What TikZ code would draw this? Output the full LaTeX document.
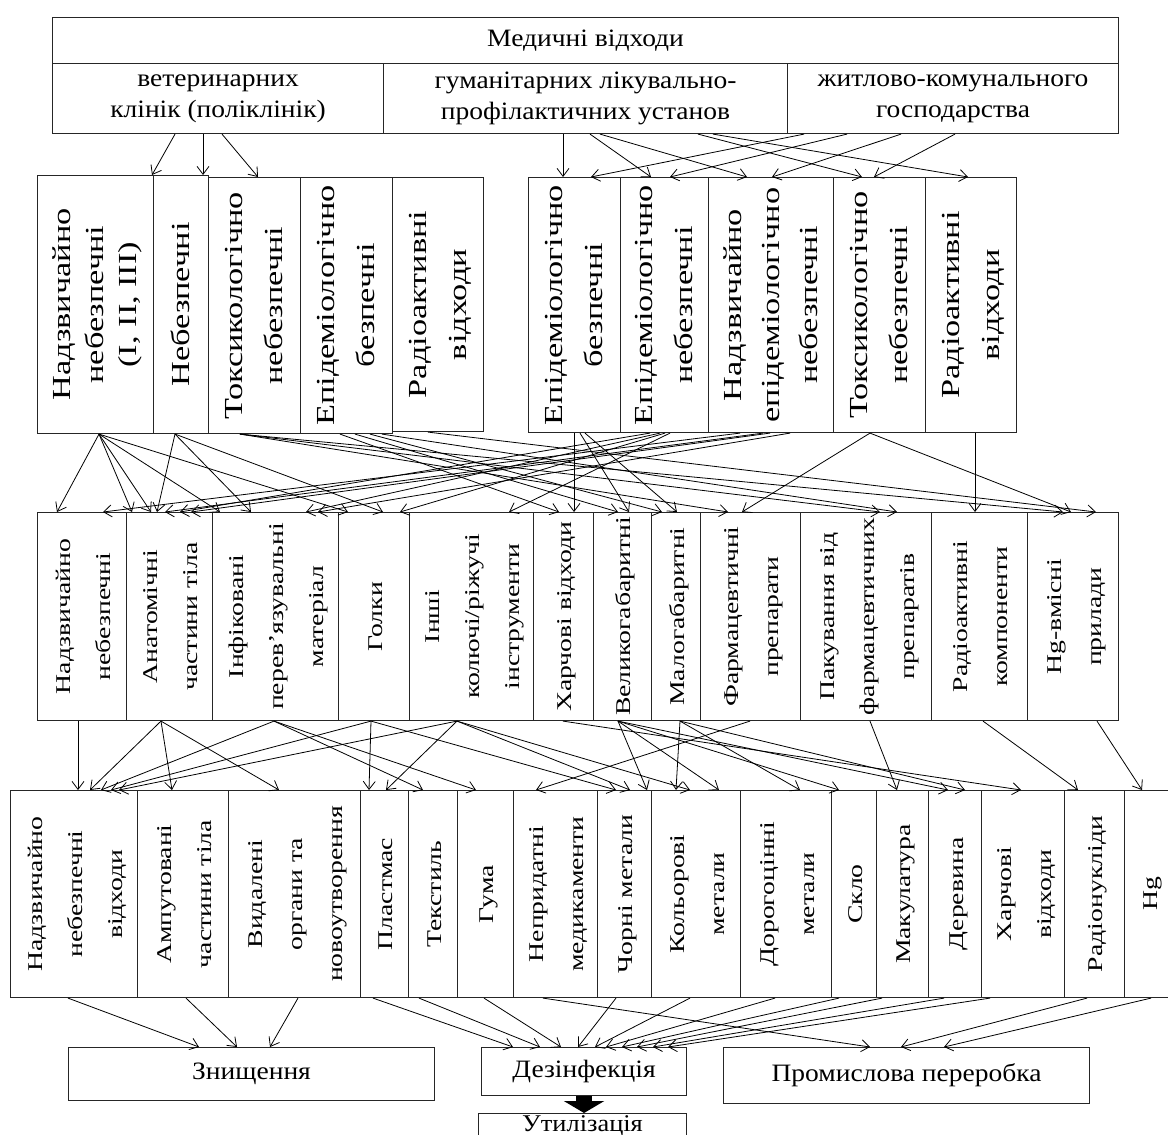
\documentclass[tikz,border=0pt]{standalone}
\usepackage{fontspec}
\usepackage{graphicx}
\setmainfont{Liberation Serif}
\newfontfamily\hfont[FakeStretch=1.1]{Liberation Serif}
\newfontfamily\vfont[FakeStretch=1.32]{Liberation Serif}
\usetikzlibrary{arrows.meta}
\usetikzlibrary{positioning}

\newcommand{\vtext}[1]{\rotatebox{90}{\begin{tabular}{@{}c@{}}#1\end{tabular}}}

\begin{document}
\begin{tikzpicture}[x=1pt,y=-1pt,
    hbox/.style={draw=black!85, line width=1.1pt, inner sep=0pt, anchor=north west,
      align=center, font=\hfont\fontsize{25}{31}\selectfont},
    vbox/.style={draw=black!85, line width=1.1pt, inner sep=0pt, anchor=north west},
    lvtwo/.style={vbox, font=\vfont\fontsize{26}{40}\selectfont},
    lvthree/.style={vbox, minimum height=208pt, font=\vfont\fontsize{21}{40}\selectfont},
    lvfour/.style={vbox, minimum height=207pt, font=\vfont\fontsize{21}{40}\selectfont},
    arr/.style={-{Straight Barb[length=8pt,width=12pt]}, line width=0.8pt},
    fat/.style={-{Triangle[length=12pt,width=40pt]}, line width=16pt}]
    \fill[white] (0,0) rectangle (1168,1135);
    \useasboundingbox (0,0) rectangle (1168,1135);

    % sources
    \node[hbox, minimum width=1066pt, minimum height=46pt] (title) at (52,17) {Медичні відходи};
    \node[hbox, minimum width=331pt, minimum height=70pt] (vet) at (52,63) {ветеринарних\\клінік (поліклінік)};
    \node[hbox, minimum width=404pt, minimum height=70pt] (hum) at (383,63) {гуманітарних лікувально-\\профілактичних установ};
    \node[hbox, minimum width=331pt, minimum height=70pt] (com) at (787,63) {житлово-комунального\\господарства};

    % level 2, left group
    \node[lvtwo, minimum width=116pt, minimum height=258pt] (a1) at (37,175) {\vtext{Надзвичайно\\[-7pt]небезпечні\\[-7pt](I, II, III)}};
    \node[lvtwo, minimum width=55pt, minimum height=258pt] (a2) at (153,175) {\vtext{Небезпечні}};
    \node[lvtwo, minimum width=92pt, minimum height=256pt] (a3) at (208,177) {\vtext{Токсикологічно\\небезпечні}};
    \node[lvtwo, minimum width=92pt, minimum height=256pt] (a4) at (300,177) {\vtext{Епідеміологічно\\безпечні}};
    \node[lvtwo, minimum width=91pt, minimum height=254pt] (a5) at (392,177) {\vtext{Радіоактивні\\відходи}};
    % level 2, right group
    \node[lvtwo, minimum width=92pt, minimum height=255pt] (b1) at (528,177) {\vtext{Епідеміологічно\\безпечні}};
    \node[lvtwo, minimum width=88pt, minimum height=255pt] (b2) at (620,177) {\vtext{Епідеміологічно\\небезпечні}};
    \node[lvtwo, minimum width=125pt, minimum height=255pt] (b3) at (708,177) {\vtext{Надзвичайно\\[-2pt]епідеміологічно\\[-2pt]небезпечні}};
    \node[lvtwo, minimum width=92pt, minimum height=255pt] (b4) at (833,177) {\vtext{Токсикологічно\\небезпечні}};
    \node[lvtwo, minimum width=91pt, minimum height=255pt] (b5) at (925,177) {\vtext{Радіоактивні\\відходи}};

    % level 3
    \node[lvthree, minimum width=89pt] (c1) at (37,512) {\vtext{Надзвичайно\\небезпечні}};
    \node[lvthree, minimum width=86pt] (c2) at (126,512) {\vtext{Анатомічні\\частини тіла}};
    \node[lvthree, minimum width=126pt] (c3) at (212,512) {\vtext{Інфіковані\\перев’язувальні\\матеріал}};
    \node[lvthree, minimum width=71pt] (c4) at (338,512) {\vtext{Голки}};
    \node[lvthree, minimum width=124pt] (c5) at (409,512) {\vtext{Інші\\колючі/ріжучі\\інструменти}};
    \node[lvthree, minimum width=60pt] (c6) at (533,512) {\vtext{Харчові відходи}};
    \node[lvthree, minimum width=58pt] (c7) at (593,512) {\vtext{Великогабаритні}};
    \node[lvthree, minimum width=49pt] (c8) at (651,512) {\vtext{Малогабаритні}};
    \node[lvthree, minimum width=100pt] (c9) at (700,512) {\vtext{Фармацевтичні\\препарати}};
    \node[lvthree, minimum width=131pt] (c10) at (800,512) {\vtext{Пакування від\\фармацевтичних\\препаратів}};
    \node[lvthree, minimum width=96pt] (c11) at (931,512) {\vtext{Радіоактивні\\компоненти}};
    \node[lvthree, minimum width=91pt] (c12) at (1027,512) {\vtext{Hg-вмісні\\прилади}};

    % level 4
    \node[lvfour, minimum width=127pt] (d1) at (10,790) {\vtext{Надзвичайно\\небезпечні\\відходи}};
    \node[lvfour, minimum width=91pt] (d2) at (137,790) {\vtext{Ампутовані\\частини тіла}};
    \node[lvfour, minimum width=132pt] (d3) at (228,790) {\vtext{Видалені\\органи та\\новоутворення}};
    \node[lvfour, minimum width=48pt] (d4) at (360,790) {\vtext{Пластмас}};
    \node[lvfour, minimum width=49pt] (d5) at (408,790) {\vtext{Текстиль}};
    \node[lvfour, minimum width=56pt] (d6) at (457,790) {\vtext{Гума}};
    \node[lvfour, minimum width=84pt] (d7) at (513,790) {\vtext{Непридатні\\медикаменти}};
    \node[lvfour, minimum width=54pt] (d8) at (597,790) {\vtext{Чорні метали}};
    \node[lvfour, minimum width=89pt] (d9) at (651,790) {\vtext{Кольорові\\метали}};
    \node[lvfour, minimum width=91pt] (d10) at (740,790) {\vtext{Дорогоцінні\\метали}};
    \node[lvfour, minimum width=45pt] (d11) at (831,790) {\vtext{Скло}};
    \node[lvfour, minimum width=52pt] (d12) at (876,790) {\vtext{Макулатура}};
    \node[lvfour, minimum width=53pt] (d13) at (928,790) {\vtext{Деревина}};
    \node[lvfour, minimum width=83pt] (d14) at (981,790) {\vtext{Харчові\\відходи}};
    \node[lvfour, minimum width=60pt] (d15) at (1064,790) {\vtext{Радіонукліди}};
    \node[lvfour, minimum width=50pt] (d16) at (1124,790) {\vtext{Hg}};

    % treatment
    \node[hbox, minimum width=366pt, minimum height=53pt] (e1) at (68,1047) {Знищення};
    \node[hbox, minimum width=205pt, minimum height=48pt] (e2) at (481,1047) {Дезінфекція};
    \node[hbox, minimum width=366pt, minimum height=56pt] (e3) at (723,1047) {Промислова переробка};
    \node[draw=black!85, line width=1.1pt, inner sep=0pt, anchor=north west,
      minimum width=208pt, minimum height=26pt, text height=13pt, text depth=3pt,
      font=\hfont\fontsize{24}{30}\selectfont] (e4) at (478,1113) {Утилізація};

    % sources -> level 2
    \draw[arr] ([xshift=123pt]vet.south west) -- ([xshift=115pt]a1.north west);
    \draw[arr] ([xshift=151pt]vet.south west) -- ([xshift=50pt]a2.north west);
    \draw[arr] ([xshift=170pt]vet.south west) -- ([xshift=50pt]a3.north west);
    \draw[arr] ([xshift=180pt]hum.south west) -- ([xshift=35pt]b1.north west);
    \draw[arr] ([xshift=207pt]hum.south west) -- ([xshift=31pt]b2.north west);
    \draw[arr] ([xshift=217pt]hum.south west) -- ([xshift=39pt]b3.north west);
    \draw[arr] ([xshift=315pt]hum.south west) -- ([xshift=29pt]b4.north west);
    \draw[arr] ([xshift=330pt]hum.south west) -- ([xshift=43pt]b5.north west);
    \draw[arr] ([xshift=17pt]com.south west) -- ([xshift=63pt]b1.north west);
    \draw[arr] ([xshift=60pt]com.south west) -- ([xshift=50pt]b2.north west);
    \draw[arr] ([xshift=114pt]com.south west) -- ([xshift=64pt]b3.north west);
    \draw[arr] ([xshift=168pt]com.south west) -- ([xshift=41pt]b4.north west);

    % level 2 -> level 3
    \draw[arr] ([xshift=62pt]a1.south west) -- ([xshift=20pt]c1.north west);
    \draw[arr] ([xshift=62pt]a1.south west) -- ([xshift=6pt]c2.north west);
    \draw[arr] ([xshift=62pt]a1.south west) -- ([xshift=25pt]c2.north west);
    \draw[arr] ([xshift=62pt]a1.south west) -- ([xshift=8pt]c3.north west);
    \draw[arr] ([xshift=62pt]a1.south west) -- ([xshift=10pt]c4.north west);
    \draw[arr] ([xshift=22pt]a2.south west) -- ([xshift=31pt]c2.north west);
    \draw[arr] ([xshift=22pt]a2.south west) -- ([xshift=39pt]c3.north west);
    \draw[arr] ([xshift=22pt]a2.south west) -- ([xshift=45pt]c4.north west);
    \draw[arr] ([xshift=32pt]a3.south west) -- ([xshift=28pt]c9.north west);
    \draw[arr] ([xshift=32pt]a3.south west) -- ([xshift=80pt]c10.north west);
    \draw[arr] ([xshift=32pt]a3.south west) -- ([xshift=36pt]c12.north west);
    \draw[arr] ([xshift=40pt]a4.south west) -- ([xshift=26pt]c6.north west);
    \draw[arr] ([xshift=55pt]a4.south west) -- ([xshift=25pt]c7.north west);
    \draw[arr] ([xshift=70pt]a4.south west) -- ([xshift=11pt]c8.north west);
    \draw[arr] ([xshift=82pt]a4.south west) -- ([xshift=97pt]c10.north west);
    \draw[arr] ([xshift=36pt]a5.south west) -- ([xshift=69pt]c12.north west);
    \draw[arr] ([xshift=46pt]b1.south west) -- ([xshift=41pt]c6.north west);
    \draw[arr] ([xshift=52pt]b1.south west) -- ([xshift=36pt]c7.north west);
    \draw[arr] ([xshift=57pt]b1.south west) -- ([xshift=26pt]c8.north west);
    \draw[arr] ([xshift=30pt]b2.south west) -- ([xshift=54pt]c2.north west);
    \draw[arr] ([xshift=40pt]b2.south west) -- ([xshift=94pt]c3.north west);
    \draw[arr] ([xshift=45pt]b2.south west) -- ([xshift=62pt]c4.north west);
    \draw[arr] ([xshift=50pt]b2.south west) -- ([xshift=100pt]c5.north west);
    \draw[arr] ([xshift=32pt]b3.south west) -- ([xshift=66pt]c1.north west);
    \draw[arr] ([xshift=55pt]b3.south west) -- ([xshift=39pt]c2.north west);
    \draw[arr] ([xshift=62pt]b3.south west) -- ([xshift=65pt]c2.north west);
    \draw[arr] ([xshift=82pt]b3.south west) -- ([xshift=106pt]c3.north west);
    \draw[arr] ([xshift=37pt]b4.south west) -- ([xshift=42pt]c9.north west);
    \draw[arr] ([xshift=37pt]b4.south west) -- ([xshift=44pt]c12.north west);
    \draw[arr] ([xshift=50pt]b5.south west) -- ([xshift=44pt]c11.north west);

    % level 3 -> level 4
    \draw[arr] ([xshift=41pt]c1.south west) -- ([xshift=68pt]d1.north west);
    \draw[arr] ([xshift=35pt]c2.south west) -- ([xshift=80pt]d1.north west);
    \draw[arr] ([xshift=35pt]c2.south west) -- ([xshift=35pt]d2.north west);
    \draw[arr] ([xshift=35pt]c2.south west) -- ([xshift=51pt]d3.north west);
    \draw[arr] ([xshift=62pt]c3.south west) -- ([xshift=91pt]d1.north west);
    \draw[arr] ([xshift=62pt]c3.south west) -- ([xshift=15pt]d5.north west);
    \draw[arr] ([xshift=62pt]c3.south west) -- ([xshift=19pt]d6.north west);
    \draw[arr] ([xshift=33pt]c4.south west) -- ([xshift=9pt]d4.north west);
    \draw[arr] ([xshift=33pt]c4.south west) -- ([xshift=101pt]d1.north west);
    \draw[arr] ([xshift=33pt]c4.south west) -- ([xshift=19pt]d8.north west);
    \draw[arr] ([xshift=48pt]c5.south west) -- ([xshift=109pt]d1.north west);
    \draw[arr] ([xshift=48pt]c5.south west) -- ([xshift=26pt]d4.north west);
    \draw[arr] ([xshift=48pt]c5.south west) -- ([xshift=33pt]d8.north west);
    \draw[arr] ([xshift=48pt]c5.south west) -- ([xshift=39pt]d9.north west);
    \draw[arr] ([xshift=30pt]c6.south west) -- ([xshift=40pt]d14.north west);
    \draw[arr] ([xshift=25pt]c7.south west) -- ([xshift=50pt]d8.north west);
    \draw[arr] ([xshift=25pt]c7.south west) -- ([xshift=68pt]d9.north west);
    \draw[arr] ([xshift=25pt]c7.south west) -- ([xshift=8pt]d11.north west);
    \draw[arr] ([xshift=25pt]c7.south west) -- ([xshift=20pt]d13.north west);
    \draw[arr] ([xshift=29pt]c8.south west) -- ([xshift=25pt]d9.north west);
    \draw[arr] ([xshift=29pt]c8.south west) -- ([xshift=60pt]d10.north west);
    \draw[arr] ([xshift=29pt]c8.south west) -- ([xshift=37pt]d13.north west);
    \draw[arr] ([xshift=50pt]c9.south west) -- ([xshift=23pt]d7.north west);
    \draw[arr] ([xshift=70pt]c10.south west) -- ([xshift=21pt]d12.north west);
    \draw[arr] ([xshift=52pt]c11.south west) -- ([xshift=14pt]d15.north west);
    \draw[arr] ([xshift=70pt]c12.south west) -- ([xshift=18pt]d16.north west);

    % level 4 -> treatment
    \draw[arr] ([xshift=58pt]d1.south west) -- ([xshift=131pt]e1.north west);
    \draw[arr] ([xshift=49pt]d2.south west) -- ([xshift=169pt]e1.north west);
    \draw[arr] ([xshift=70pt]d3.south west) -- ([xshift=202pt]e1.north west);
    \draw[arr] ([xshift=13pt]d4.south west) -- ([xshift=32pt]e2.north west);
    \draw[arr] ([xshift=11pt]d5.south west) -- ([xshift=59pt]e2.north west);
    \draw[arr] ([xshift=27pt]d6.south west) -- ([xshift=80pt]e2.north west);
    \draw[arr] ([xshift=30pt]d7.south west) -- ([xshift=147pt]e3.north west);
    \draw[arr] ([xshift=19pt]d8.south west) -- ([xshift=97pt]e2.north west);
    \draw[arr] ([xshift=39pt]d9.south west) -- ([xshift=114pt]e2.north west);
    \draw[arr] ([xshift=35pt]d10.south west) -- ([xshift=125pt]e2.north west);
    \draw[arr] ([xshift=8pt]d11.south west) -- ([xshift=141pt]e2.north west);
    \draw[arr] ([xshift=6pt]d12.south west) -- ([xshift=156pt]e2.north west);
    \draw[arr] ([xshift=16pt]d13.south west) -- ([xshift=172pt]e2.north west);
    \draw[arr] ([xshift=9pt]d14.south west) -- ([xshift=187pt]e2.north west);
    \draw[arr] ([xshift=23pt]d15.south west) -- ([xshift=178pt]e3.north west);
    \draw[arr] ([xshift=27pt]d16.south west) -- ([xshift=221pt]e3.north west);
    \draw[fat] (e2.south) -- (e2.south |- e4.north);
\end{tikzpicture}
\end{document}
